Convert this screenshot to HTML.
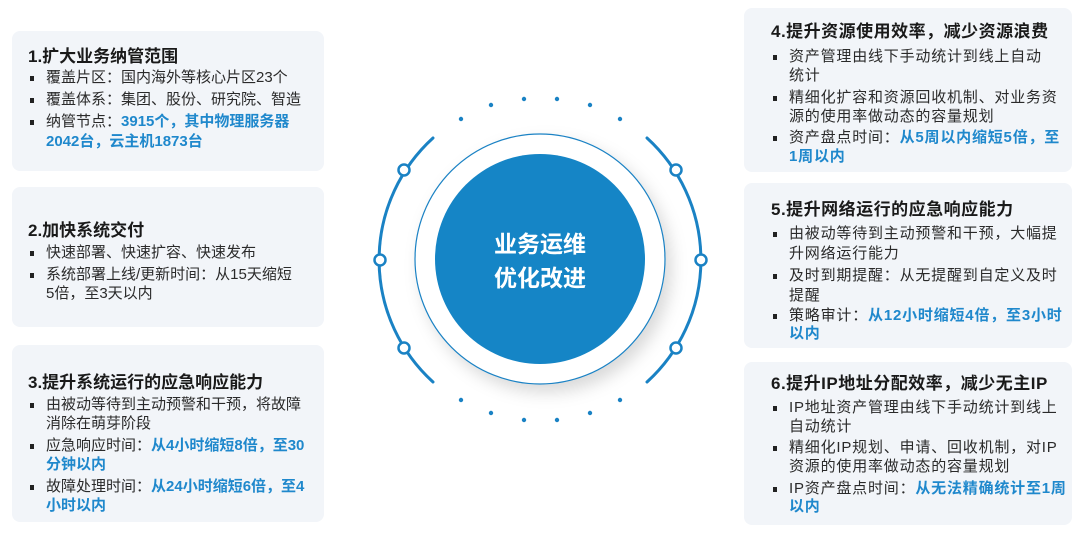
<!DOCTYPE html>
<html><head><meta charset="utf-8"><style>
*{margin:0;padding:0;box-sizing:border-box}
body{width:1080px;height:533px;background:#fff;position:relative;overflow:hidden;font-family:"Liberation Sans","Noto Sans CJK SC",sans-serif;color:#2a2a2a}
.box{position:absolute;background:#f2f5f9;border-radius:8px}
.t{position:absolute;font-weight:bold;font-size:17px;color:#1a1a1a;white-space:nowrap;line-height:22px}
.l{position:absolute;font-size:15px;line-height:20px;white-space:nowrap}
.r .l{letter-spacing:0.8px}
.b{position:absolute;width:4px;height:5px;background:#222}
.h{color:#1f88cc;font-weight:bold}
</style></head><body>
<div class="box" style="left:12px;top:31px;width:312px;height:140px"></div>
<div class="box" style="left:12px;top:187px;width:312px;height:140px"></div>
<div class="box" style="left:12px;top:345px;width:312px;height:177px"></div>
<div class="box" style="left:744px;top:8px;width:328px;height:164px"></div>
<div class="box" style="left:744px;top:183px;width:328px;height:165px"></div>
<div class="box" style="left:744px;top:362px;width:328px;height:163px"></div>

<div class="t" style="left:28px;top:46px">1.扩大业务纳管范围</div>
<div class="b" style="left:30px;top:76px"></div><div class="l" style="left:46px;top:68px">覆盖片区：国内海外等核心片区23个</div>
<div class="b" style="left:30px;top:98px"></div><div class="l" style="left:46px;top:90px">覆盖体系：集团、股份、研究院、智造</div>
<div class="b" style="left:30px;top:120px"></div><div class="l" style="left:46px;top:112px">纳管节点：<span class="h">3915个，其中物理服务器</span></div>
<div class="l h" style="left:46px;top:132px">2042台，云主机1873台</div>

<div class="t" style="left:28px;top:220px">2.加快系统交付</div>
<div class="b" style="left:30px;top:251px"></div><div class="l" style="left:46px;top:243px">快速部署、快速扩容、快速发布</div>
<div class="b" style="left:30px;top:273px"></div><div class="l" style="left:46px;top:265px">系统部署上线/更新时间：从15天缩短</div>
<div class="l" style="left:46px;top:284px">5倍，至3天以内</div>

<div class="t" style="left:28px;top:372px">3.提升系统运行的应急响应能力</div>
<div class="b" style="left:30px;top:403px"></div><div class="l" style="left:46px;top:395px">由被动等待到主动预警和干预，将故障</div>
<div class="l" style="left:46px;top:414px">消除在萌芽阶段</div>
<div class="b" style="left:30px;top:444px"></div><div class="l" style="left:46px;top:436px">应急响应时间：<span class="h">从4小时缩短8倍，至30</span></div>
<div class="l h" style="left:46px;top:455px">分钟以内</div>
<div class="b" style="left:30px;top:485px"></div><div class="l" style="left:46px;top:477px">故障处理时间：<span class="h">从24小时缩短6倍，至4</span></div>
<div class="l h" style="left:46px;top:496px">小时以内</div>

<div class="r">
<div class="t" style="left:771px;top:21px;letter-spacing:0.5px">4.提升资源使用效率，减少资源浪费</div>
<div class="b" style="left:773px;top:55px"></div><div class="l" style="left:789px;top:47px">资产管理由线下手动统计到线上自动</div>
<div class="l" style="left:789px;top:66px">统计</div>
<div class="b" style="left:773px;top:96px"></div><div class="l" style="left:789px;top:88px">精细化扩容和资源回收机制、对业务资</div>
<div class="l" style="left:789px;top:107px">源的使用率做动态的容量规划</div>
<div class="b" style="left:773px;top:136px"></div><div class="l" style="left:789px;top:128px">资产盘点时间：<span class="h">从5周以内缩短5倍，至</span></div>
<div class="l h" style="left:789px;top:147px">1周以内</div>

<div class="t" style="left:771px;top:199px;letter-spacing:0.5px">5.提升网络运行的应急响应能力</div>
<div class="b" style="left:773px;top:232px"></div><div class="l" style="left:789px;top:224px">由被动等待到主动预警和干预，大幅提</div>
<div class="l" style="left:789px;top:244px">升网络运行能力</div>
<div class="b" style="left:773px;top:274px"></div><div class="l" style="left:789px;top:266px">及时到期提醒：从无提醒到自定义及时</div>
<div class="l" style="left:789px;top:286px">提醒</div>
<div class="b" style="left:773px;top:314px"></div><div class="l" style="left:789px;top:306px">策略审计：<span class="h">从12小时缩短4倍，至3小时</span></div>
<div class="l h" style="left:789px;top:324px">以内</div>

<div class="t" style="left:771px;top:373px;letter-spacing:0.5px">6.提升IP地址分配效率，减少无主IP</div>
<div class="b" style="left:773px;top:406px"></div><div class="l" style="left:789px;top:398px">IP地址资产管理由线下手动统计到线上</div>
<div class="l" style="left:789px;top:417px">自动统计</div>
<div class="b" style="left:773px;top:446px"></div><div class="l" style="left:789px;top:438px">精细化IP规划、申请、回收机制，对IP</div>
<div class="l" style="left:789px;top:457px">资源的使用率做动态的容量规划</div>
<div class="b" style="left:773px;top:487px"></div><div class="l" style="left:789px;top:479px">IP资产盘点时间：<span class="h">从无法精确统计至1周</span></div>
<div class="l h" style="left:789px;top:497px">以内</div>
</div>

<svg style="position:absolute;left:0;top:0" width="1080" height="533">
<defs><filter id="sh" x="-30%" y="-30%" width="160%" height="160%"><feDropShadow dx="6" dy="8" stdDeviation="8" flood-color="#000" flood-opacity="0.15"/></filter></defs>
<g fill="none" stroke="#1a82c4" stroke-width="3" stroke-linecap="round">
<path d="M433,138 A165,165 0 0 0 433,382"/>
<path d="M647,138 A165,165 0 0 1 647,382"/>
</g>
<g fill="#fff" stroke="#1a82c4" stroke-width="2.5">
<circle cx="404" cy="170" r="5.5"/><circle cx="380" cy="260" r="5.5"/><circle cx="404" cy="348" r="5.5"/>
<circle cx="676" cy="170" r="5.5"/><circle cx="701" cy="260" r="5.5"/><circle cx="676" cy="348" r="5.5"/>
</g>
<g fill="#1a82c4">
<circle cx="461" cy="119" r="2.2"/><circle cx="491" cy="105" r="2.2"/><circle cx="524" cy="99" r="2.2"/><circle cx="557" cy="99" r="2.2"/><circle cx="590" cy="105" r="2.2"/><circle cx="620" cy="119" r="2.2"/>
<circle cx="461" cy="400" r="2.2"/><circle cx="491" cy="413" r="2.2"/><circle cx="524" cy="420" r="2.2"/><circle cx="557" cy="420" r="2.2"/><circle cx="590" cy="413" r="2.2"/><circle cx="620" cy="400" r="2.2"/>
</g>
<circle cx="540" cy="259" r="125" fill="#fff" stroke="#1a82c4" stroke-width="1.2" filter="url(#sh)"/>
<circle cx="540" cy="259" r="105" fill="#1585c6"/>
<text x="540" y="252" text-anchor="middle" fill="#fff" font-size="23" font-weight="bold" font-family="Liberation Sans,Noto Sans CJK SC,sans-serif">业务运维</text>
<text x="540" y="286" text-anchor="middle" fill="#fff" font-size="23" font-weight="bold" font-family="Liberation Sans,Noto Sans CJK SC,sans-serif">优化改进</text>
</svg>
</body></html>
